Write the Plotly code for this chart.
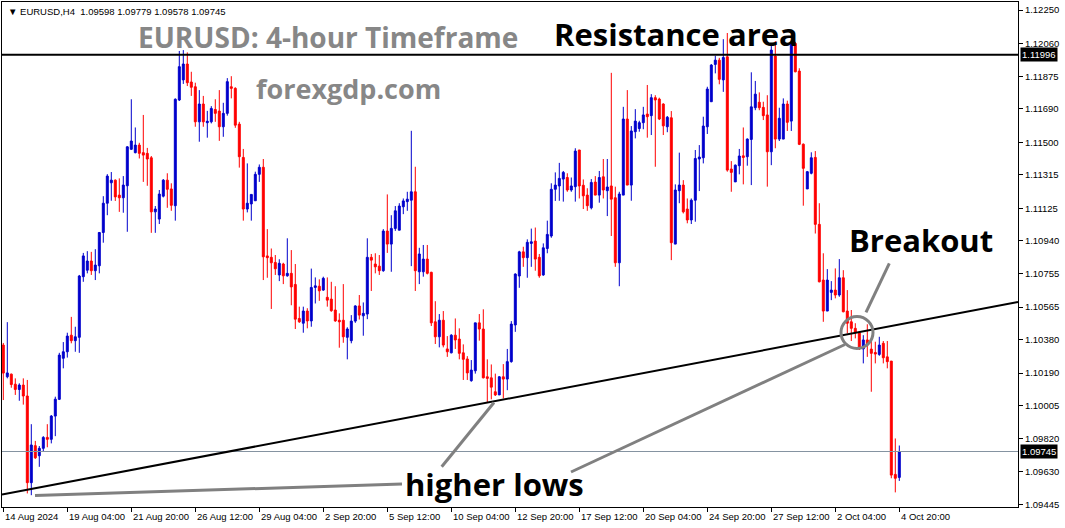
import plotly.graph_objects as go

# ---------------- data (EURUSD H4, bar index 0 = 14 Aug 2024 12:00) ----------------
opens = [
 1.10349,1.10169,1.10184,1.10127,1.10097,1.10122,1.10060,1.09568,1.09778,1.09721,
 1.09763,1.09825,1.09814,1.09946,1.10041,1.10274,1.10311,1.10405,1.10374,1.10393,
 1.10737,1.10774,1.10826,1.10771,1.10799,1.10988,1.11154,1.11270,1.11285,1.11200,
 1.11185,1.11253,1.11460,1.11441,1.11484,1.11441,1.11437,1.11412,1.11105,1.11064,
 1.11194,1.11285,1.11235,1.11140,1.11740,1.11854,1.11944,1.11842,1.11815,1.11616,
 1.11717,1.11611,1.11616,1.11686,1.11677,1.11588,1.11664,1.11815,1.11806,1.11603,
 1.11414,1.11121,1.11150,1.11168,1.11318,1.11358,1.10855,1.10847,1.10818,1.10747,
 1.10809,1.10742,1.10756,1.10693,1.10500,1.10473,1.10542,1.10486,1.10676,1.10683,
 1.10661,1.10620,1.10610,1.10548,1.10490,1.10490,1.10393,1.10374,1.10485,1.10571,
 1.10515,1.10525,1.10847,1.10809,1.10797,1.10771,1.10996,1.10922,1.11011,1.11001,
 1.11134,1.11163,1.11171,1.11219,1.10765,1.10765,1.10837,1.10762,1.10481,1.10396,
 1.10490,1.10327,1.10305,1.10405,1.10383,1.10305,1.10270,1.10147,1.10203,1.10475,
 1.10440,1.10169,1.10163,1.10084,1.10066,1.10169,1.10156,1.10255,1.10463,1.10741,
 1.10878,1.10845,1.10926,1.10939,1.10847,1.10747,1.10897,1.10968,1.11233,1.11252,
 1.11291,1.11300,1.11229,1.11248,1.11456,1.11256,1.11200,1.11128,1.11274,1.11200,
 1.11304,1.11225,1.11252,1.11185,1.10816,1.11200,1.11632,1.11257,1.11560,1.11578,
 1.11611,1.11660,1.11651,1.11753,1.11745,1.11717,1.11588,1.11639,1.10922,1.11225,
 1.11257,1.11121,1.11059,1.11171,1.11405,1.11412,1.11588,1.11730,1.11942,1.11966,
 1.11854,1.11985,1.11348,1.11275,1.11367,1.11423,1.11418,1.11516,1.11696,1.11727,
 1.11698,1.11655,1.11446,1.11989,1.11518,1.11518,1.11717,1.11620,1.12061,1.11904,
 1.11489,1.11235,1.11324,1.11414,1.11034,1.10718,1.10542,1.10648,1.10661,1.10633,
 1.10731,1.10542,1.10481,1.10444,1.10419,1.10327,1.10378,1.10326,1.10307,1.10296,
 1.10359,1.10282,1.10258,1.09615,1.09598]

highs = [
 1.10361,1.10479,1.10187,1.10160,1.10132,1.10160,1.10151,1.09900,1.09805,1.09776,
 1.09832,1.09900,1.09952,1.10056,1.10305,1.10366,1.10419,1.10509,1.10453,1.10747,
 1.10872,1.10882,1.10878,1.10893,1.10990,1.11194,1.11319,1.11331,1.11289,1.11295,
 1.11308,1.11478,1.11744,1.11584,1.11497,1.11655,1.11468,1.11422,1.11138,1.11229,
 1.11291,1.11324,1.11267,1.11749,1.12018,1.12023,1.12010,1.11900,1.11838,1.11796,
 1.11763,1.11678,1.11705,1.11744,1.11796,1.11724,1.11864,1.11875,1.11812,1.11616,
 1.11462,1.11380,1.11204,1.11333,1.11374,1.11405,1.11007,1.10897,1.10860,1.10836,
 1.10816,1.10955,1.10888,1.10809,1.10567,1.10567,1.10558,1.10783,1.10733,1.10722,
 1.10737,1.10733,1.10708,1.10683,1.10529,1.10695,1.10450,1.10519,1.10575,1.10633,
 1.10591,1.10955,1.10866,1.10870,1.10860,1.11007,1.11204,1.11086,1.11138,1.11154,
 1.11181,1.11219,1.11565,1.11361,1.10901,1.10917,1.10917,1.10765,1.10598,1.10525,
 1.10542,1.10400,1.10411,1.10500,1.10444,1.10353,1.10286,1.10264,1.10475,1.10525,
 1.10552,1.10268,1.10239,1.10187,1.10173,1.10241,1.10327,1.10485,1.10756,1.10884,
 1.10907,1.10949,1.11010,1.11016,1.10866,1.10926,1.11055,1.11267,1.11329,1.11383,
 1.11337,1.11324,1.11300,1.11466,1.11456,1.11289,1.11239,1.11291,1.11308,1.11337,
 1.11405,1.11405,1.11894,1.11248,1.11219,1.11701,1.11796,1.11592,1.11688,1.11622,
 1.11701,1.11825,1.11773,1.11767,1.11753,1.11721,1.11649,1.11677,1.11261,1.11441,
 1.11285,1.11181,1.11181,1.11456,1.11484,1.11645,1.11815,1.11944,1.11991,1.11979,
 1.12085,1.12120,1.11393,1.11374,1.11462,1.11584,1.11522,1.11897,1.11848,1.11783,
 1.11730,1.11767,1.12052,1.12074,1.11696,1.11749,1.11736,1.12080,1.12070,1.11920,
 1.11493,1.11337,1.11443,1.11450,1.11154,1.10870,1.10780,1.10712,1.10784,1.10837,
 1.10774,1.10661,1.10548,1.10473,1.10429,1.10405,1.10467,1.10390,1.10368,1.10396,
 1.10372,1.10372,1.10258,1.09819,1.09779]

lows = [
 1.10037,1.10160,1.10107,1.10066,1.10033,1.10011,1.09507,1.09497,1.09703,1.09658,
 1.09743,1.09769,1.09791,1.09832,1.10037,1.10217,1.10278,1.10359,1.10311,1.10305,
 1.10708,1.10756,1.10747,1.10718,1.10756,1.10930,1.11086,1.11168,1.11167,1.11105,
 1.11100,1.10992,1.11456,1.11437,1.11408,1.11275,1.11253,1.10986,1.10986,1.11036,
 1.11187,1.11128,1.11111,1.11055,1.11734,1.11831,1.11819,1.11763,1.11588,1.11503,
 1.11588,1.11526,1.11607,1.11616,1.11508,1.11531,1.11651,1.11749,1.11582,1.11356,
 1.11055,1.11102,1.11055,1.11168,1.11275,1.10718,1.10731,1.10554,1.10747,1.10712,
 1.10695,1.10737,1.10575,1.10440,1.10475,1.10419,1.10444,1.10453,1.10585,1.10600,
 1.10657,1.10567,1.10538,1.10481,1.10334,1.10362,1.10268,1.10359,1.10475,1.10494,
 1.10402,1.10496,1.10656,1.10756,1.10747,1.10765,1.10872,1.10765,1.10997,1.11001,
 1.11092,1.11111,1.10797,1.10656,1.10695,1.10737,1.10750,1.10457,1.10355,1.10336,
 1.10336,1.10282,1.10302,1.10327,1.10268,1.10151,1.10151,1.10141,1.10187,1.10374,
 1.10160,1.10022,1.10041,1.10060,1.10066,1.10046,1.10093,1.10249,1.10424,1.10674,
 1.10793,1.10731,1.10793,1.10771,1.10731,1.10742,1.10870,1.10958,1.11167,1.11168,
 1.11163,1.11219,1.11219,1.11163,1.11181,1.11121,1.11111,1.11119,1.11200,1.11157,
 1.11181,1.11081,1.10968,1.10793,1.10683,1.11200,1.11257,1.11168,1.11522,1.11560,
 1.11574,1.11526,1.11541,1.11361,1.11626,1.11541,1.11557,1.10831,1.10922,1.11154,
 1.11096,1.11040,1.11036,1.11049,1.11223,1.11380,1.11547,1.11730,1.11891,1.11829,
 1.11786,1.11333,1.11219,1.11275,1.11318,1.11261,1.11367,1.11257,1.11682,1.11682,
 1.11626,1.11248,1.11370,1.11466,1.11507,1.11518,1.11564,1.11564,1.11897,1.11484,
 1.11140,1.11235,1.11318,1.10982,1.10705,1.10481,1.10542,1.10604,1.10614,1.10623,
 1.10535,1.10415,1.10372,1.10387,1.10321,1.10245,1.10282,1.10084,1.10245,1.10288,
 1.10245,1.10217,1.09593,1.09513,1.09578]

closes = [
 1.10190,1.10191,1.10125,1.10097,1.10122,1.10060,1.09568,1.09782,1.09709,1.09763,
 1.09825,1.09814,1.09946,1.10042,1.10292,1.10311,1.10400,1.10374,1.10396,1.10741,
 1.10855,1.10826,1.10771,1.10803,1.10988,1.11154,1.11308,1.11285,1.11190,1.11185,
 1.11257,1.11474,1.11507,1.11484,1.11437,1.11427,1.11405,1.11105,1.11121,1.11206,
 1.11285,1.11233,1.11142,1.11744,1.11929,1.11944,1.11838,1.11812,1.11616,1.11717,
 1.11616,1.11619,1.11692,1.11664,1.11588,1.11664,1.11844,1.11806,1.11597,1.11418,
 1.11121,1.11154,1.11204,1.11318,1.11358,1.10850,1.10845,1.10816,1.10782,1.10813,
 1.10742,1.10756,1.10679,1.10496,1.10481,1.10542,1.10486,1.10676,1.10685,1.10657,
 1.10728,1.10604,1.10544,1.10486,1.10481,1.10396,1.10440,1.10485,1.10571,1.10519,
 1.10529,1.10847,1.10831,1.10793,1.10771,1.10996,1.10922,1.11011,1.11111,1.11138,
 1.11167,1.11177,1.11219,1.10771,1.10866,1.10837,1.10756,1.10475,1.10396,1.10490,
 1.10349,1.10311,1.10405,1.10378,1.10302,1.10268,1.10191,1.10207,1.10475,1.10440,
 1.10163,1.10160,1.10110,1.10066,1.10169,1.10156,1.10255,1.10468,1.10752,1.10878,
 1.10845,1.10932,1.10935,1.10837,1.10742,1.10901,1.10977,1.11233,1.11257,1.11295,
 1.11329,1.11229,1.11252,1.11450,1.11252,1.11196,1.11140,1.11272,1.11200,1.11300,
 1.11229,1.11246,1.11177,1.10816,1.11206,1.11632,1.11257,1.11564,1.11620,1.11611,
 1.11655,1.11645,1.11753,1.11740,1.11632,1.11593,1.11642,1.10930,1.11229,1.11257,
 1.11105,1.11059,1.11171,1.11408,1.11416,1.11592,1.11802,1.11938,1.11966,1.11857,
 1.11981,1.11342,1.11329,1.11370,1.11422,1.11414,1.11518,1.11701,1.11773,1.11696,
 1.11651,1.11446,1.12023,1.11518,1.11636,1.11717,1.11613,1.12061,1.11900,1.11488,
 1.11352,1.11333,1.11412,1.11034,1.10708,1.10542,1.10718,1.10661,1.10633,1.10731,
 1.10538,1.10473,1.10444,1.10419,1.10327,1.10378,1.10349,1.10302,1.10298,1.10349,
 1.10277,1.10255,1.09611,1.09593,1.09745]

bars = list(range(len(opens)))

x_tick_bars = [0, 16, 32, 48, 64, 80, 96, 112, 128, 144, 160, 176, 192, 208, 224]
x_tick_labels = ["14 Aug 2024", "19 Aug 04:00", "21 Aug 20:00", "26 Aug 12:00",
                 "29 Aug 04:00", "2 Sep 20:00", "5 Sep 12:00", "10 Sep 04:00",
                 "12 Sep 20:00", "17 Sep 12:00", "20 Sep 04:00", "24 Sep 20:00",
                 "27 Sep 12:00", "2 Oct 04:00", "4 Oct 20:00"]
price_ticks = [1.12250, 1.12060, 1.11875, 1.11690, 1.11500, 1.11315, 1.11125, 1.10940,
               1.10755, 1.10565, 1.10380, 1.10190, 1.10005, 1.09820, 1.09630, 1.09445]

resistance_price = 1.11996
bid_price = 1.09745
trend_bars = [-0.325, 253.675]
trend_prices = [1.09501, 1.10593]
header_text = "\u25bc EURUSD,H4\u00a0 1.09598 1.09779 1.09578 1.09745"

# ---------------- styling / layout ----------------
BLUE = "#0000CC"
RED = "#FF0000"
GRAY = "#808080"
W, H = 1065, 528
L_PX, R_PX, T_PX, B_PX = 2, 1018, 2, 507          # plot area in pixels


def px(x):
    return (x - L_PX) / (R_PX - L_PX)


def py(y):
    return (B_PX - y) / (B_PX - T_PX)


fig = go.Figure()
fig.add_trace(go.Candlestick(
    x=bars, open=opens, high=highs, low=lows, close=closes,
    increasing=dict(line=dict(color=BLUE, width=1), fillcolor=BLUE),
    decreasing=dict(line=dict(color=RED, width=1), fillcolor=RED),
    whiskerwidth=0, hoverinfo="skip", showlegend=False))

axis_font = dict(family="Liberation Sans, Arial, sans-serif", size=9.5, color="black")

shapes = [
    # resistance line
    dict(type="line", xref="paper", yref="y", x0=0, x1=1, y0=resistance_price, y1=resistance_price,
         line=dict(color="black", width=2)),
    # bid line
    dict(type="line", xref="paper", yref="y", x0=0, x1=1, y0=bid_price, y1=bid_price,
         line=dict(color="#8593a1", width=1)),
    # rising trendline
    dict(type="line", xref="x", yref="y", x0=trend_bars[0], x1=trend_bars[1],
         y0=trend_prices[0], y1=trend_prices[1], line=dict(color="black", width=2)),
    # pointer lines from "higher lows"
    dict(type="line", xref="paper", yref="paper", x0=px(35), y0=py(495.5), x1=px(402), y1=py(484),
         line=dict(color=GRAY, width=3)),
    dict(type="line", xref="paper", yref="paper", x0=px(441.7), y0=py(466.7), x1=px(494), y1=py(402.5),
         line=dict(color=GRAY, width=3)),
    dict(type="line", xref="paper", yref="paper", x0=px(571), y0=py(472), x1=px(845), y1=py(344.5),
         line=dict(color=GRAY, width=3)),
    # breakout circle and pointer
    dict(type="circle", xref="paper", yref="paper", x0=px(841), x1=px(873), y0=py(348.5), y1=py(316.5),
         line=dict(color=GRAY, width=3)),
    dict(type="line", xref="paper", yref="paper", x0=px(866), y0=py(312.3), x1=px(889.3), y1=py(263.3),
         line=dict(color=GRAY, width=3)),
]

annotations = []
for b, lab in zip(x_tick_bars, x_tick_labels):
    annotations.append(dict(x=b, xref="x", y=py(516), yref="paper", text=lab, showarrow=False,
                            xanchor="left", yanchor="middle", xshift=0, font=axis_font))

for price, txt in [(resistance_price, "1.11996"), (bid_price, "1.09745")]:
    annotations.append(dict(x=1, xref="paper", y=price, yref="y", text=txt, showarrow=False,
                            xanchor="left", yanchor="middle", xshift=2, bgcolor="black",
                            borderpad=1, font=dict(family=axis_font["family"], size=9.5, color="white")))

annotations.append(dict(x=px(6), y=py(11), xref="paper", yref="paper", text=header_text,
                        showarrow=False, xanchor="left", yanchor="middle", font=axis_font))

title_font = "Open Sans, Noto Sans, sans-serif"
annotations += [
    dict(x=px(328), y=py(37), xref="paper", yref="paper", text="<b>EURUSD: 4-hour Timeframe</b>",
         showarrow=False, xanchor="center", yanchor="middle",
         font=dict(family=title_font, size=28, color="#878787")),
    dict(x=px(348), y=py(88), xref="paper", yref="paper", text="<b>forexgdp.com</b>",
         showarrow=False, xanchor="center", yanchor="middle",
         font=dict(family=title_font, size=27, color="#878787")),
    dict(x=px(676), y=py(34), xref="paper", yref="paper", text="<b>Resistance area</b>",
         showarrow=False, xanchor="center", yanchor="middle",
         font=dict(family=title_font, size=31, color="black")),
    dict(x=px(921), y=py(240), xref="paper", yref="paper", text="<b>Breakout</b>",
         showarrow=False, xanchor="center", yanchor="middle",
         font=dict(family=title_font, size=31, color="black")),
    dict(x=px(494.5), y=py(484), xref="paper", yref="paper", text="<b>higher lows</b>",
         showarrow=False, xanchor="center", yanchor="middle",
         font=dict(family=title_font, size=31, color="black")),
]

fig.update_layout(
    width=W, height=H,
    margin=dict(l=L_PX, r=W - R_PX, t=T_PX, b=H - B_PX, pad=0),
    paper_bgcolor="white", plot_bgcolor="white",
    showlegend=False,
    boxgap=0.3, boxgroupgap=0.3,
    shapes=shapes, annotations=annotations,
    xaxis=dict(type="linear", range=[trend_bars[0], trend_bars[1]], rangeslider=dict(visible=False),
               showgrid=False, zeroline=False, showline=True, mirror=True, linecolor="black",
               linewidth=1, ticks="outside", ticklen=4, tickcolor="black", tickwidth=1,
               tickvals=x_tick_bars, showticklabels=False, fixedrange=True),
    yaxis=dict(side="right", range=[1.09430, 1.12296], showgrid=False, zeroline=False,
               showline=True, mirror=True, linecolor="black", linewidth=1,
               ticks="outside", ticklen=4, tickcolor="black", tickwidth=1,
               tickvals=price_ticks, ticktext=[f"{p:.5f}" for p in price_ticks],
               tickfont=axis_font, fixedrange=True),
)

fig.write_html("out.html", config={"displayModeBar": False},
               post_script="document.body.style.margin='0';document.body.style.overflow='hidden';")
